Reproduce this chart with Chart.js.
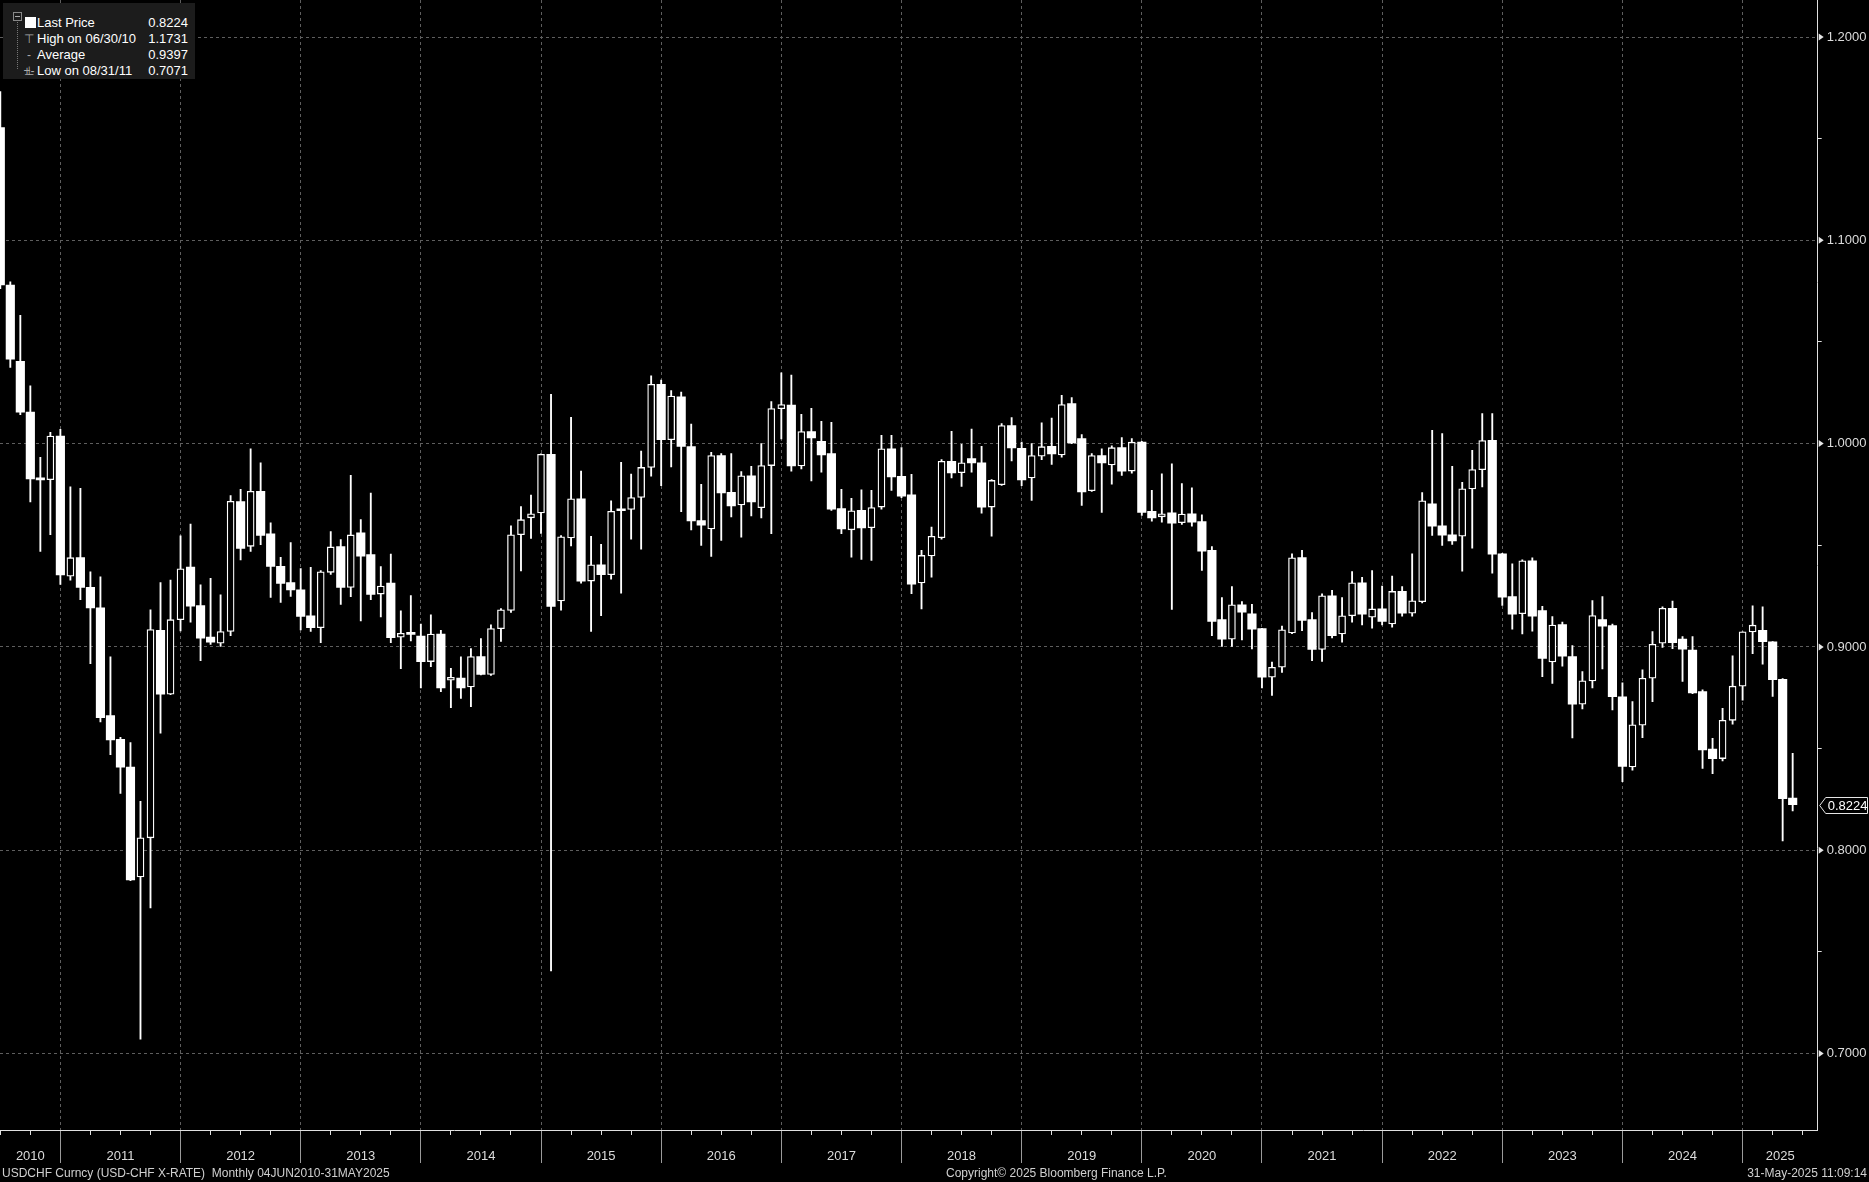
<!DOCTYPE html>
<html>
<head>
<meta charset="utf-8">
<script src="https://cdn.jsdelivr.net/npm/chart.js@4.4.1/dist/chart.umd.min.js"></script>
<style>
  html, body { margin: 0; padding: 0; background: #000; }
  #wrap { position: relative; width: 1869px; height: 1182px; overflow: hidden; }
  #grafico { position: absolute; left: 0; top: 0; }
  #legend { position: absolute; left: 3px; top: 3px; width: 192px; height: 76px; background: #1c1c1c;
            font: 13px "Liberation Sans", Arial, sans-serif; color: #fff; }
  #legend .row { position: absolute; left: 0; width: 100%; height: 16px; line-height: 16px; }
  #legend .nm { position: absolute; left: 34px; }
  #legend .val { position: absolute; right: 7px; }
  #legend .tree { position: absolute; left: 14px; top: 14px; height: 52px; border-left: 1px dotted #777; }
  #legend .box { position: absolute; left: 10px; top: 9px; width: 7px; height: 7px; border: 1px solid #888; background: #1c1c1c; }
  #legend .box:after { content: ''; position: absolute; left: 1px; top: 3px; width: 5px; height: 1px; background: #aaa; }
  #legend .sq { position: absolute; left: 22px; top: 2px; width: 11px; height: 11px; background: #fff; }
  #legend .ic { position: absolute; left: 20px; top: 0; width: 12px; color: #aaa; font-size: 12px; text-align: center; }
  .foot { position: absolute; top: 1166px; font: 12px "Liberation Sans", Arial, sans-serif; color: #d0d0d0; white-space: pre; }
</style>
</head>
<body>
<div id="wrap">
  <canvas id="grafico" width="1869" height="1182"></canvas>
  <div id="legend">
    <div class="tree"></div>
    <div class="box"></div>
    <div class="row" style="top:12px"><span class="sq"></span><span class="nm">Last Price</span><span class="val">0.8224</span></div>
    <div class="row" style="top:28px"><span class="ic">&#x22A4;</span><span class="nm">High on 06/30/10</span><span class="val">1.1731</span></div>
    <div class="row" style="top:44px"><span class="ic">-+-</span><span class="nm">Average</span><span class="val">0.9397</span></div>
    <div class="row" style="top:60px"><span class="ic">&#x22A5;</span><span class="nm">Low on 08/31/11</span><span class="val">0.7071</span></div>
  </div>
  <div class="foot" style="left:2px">USDCHF Curncy (USD-CHF X-RATE)  Monthly 04JUN2010-31MAY2025</div>
  <div class="foot" style="left:946px">Copyright© 2025 Bloomberg Finance L.P.</div>
  <div class="foot" style="right:2px">31-May-2025 11:09:14</div>
</div>
<script>
// USD-CHF monthly candles, Jun 2010 -> May 2025 (one row per year)
const open = [
  1.1555, 1.0780, 1.0405, 1.0155, 0.9826, 0.9823, 1.0037,
  0.9348, 0.9439, 0.9293, 0.9192, 0.8662, 0.8546, 0.8409, 0.7869, 0.8061, 0.9082, 0.8768, 0.9134,
  0.9393, 0.9204, 0.9049, 0.9018, 0.9076, 0.9715, 0.9495, 0.9765, 0.9556, 0.9396, 0.9316, 0.9281,
  0.9153, 0.9095, 0.9367, 0.9493, 0.9293, 0.9561, 0.9454, 0.9260, 0.9314, 0.9048, 0.9067, 0.9053,
  0.8928, 0.9063, 0.8836, 0.8847, 0.8803, 0.8953, 0.8865, 0.9090, 0.9179, 0.9552, 0.9635, 0.9659,
  0.9947, 0.9226, 0.9536, 0.9729, 0.9324, 0.9404, 0.9355, 0.9674, 0.9676, 0.9735, 0.9883, 1.0292,
  1.0019, 1.0230, 0.9986, 0.9622, 0.9580, 0.9941, 0.9760, 0.9698, 0.9842, 0.9685, 0.9892, 1.0172,
  1.0189, 0.9890, 1.0059, 1.0011, 0.9951, 0.9681, 0.9576, 0.9672, 0.9586, 0.9688, 0.9975, 0.9839,
  0.9748, 0.9315, 0.9448, 0.9537, 0.9913, 0.9857, 0.9926, 0.9906, 0.9688, 0.9798, 1.0089, 0.9977,
  0.9831, 0.9938, 0.9987, 0.9944, 1.0197, 1.0025, 0.9768, 0.9941, 0.9895, 0.9980, 0.9865, 1.0007,
  0.9667, 0.9640, 0.9660, 0.9611, 0.9655, 0.9616, 0.9475, 0.9135, 0.9038, 0.9207, 0.9163, 0.9090,
  0.8851, 0.8900, 0.9069, 0.9440, 0.9135, 0.8988, 0.9251, 0.9064, 0.9153, 0.9315, 0.9146, 0.9187,
  0.9113, 0.9273, 0.9166, 0.9223, 0.9704, 0.9596, 0.9552, 0.9545, 0.9777, 0.9872, 1.0016, 0.9458,
  0.9248, 0.9163, 0.9424, 0.9179, 0.8926, 0.9110, 0.8952, 0.8718, 0.8833, 0.9135, 0.9105, 0.8755,
  0.8410, 0.8615, 0.8846, 0.9018, 0.9190, 0.9039, 0.8985, 0.8780, 0.8497, 0.8451, 0.8639, 0.8807,
  0.9074, 0.9082, 0.9025, 0.8841, 0.8256
]
const high = [
  1.1731, 1.0796, 1.0631, 1.0284, 0.9933, 1.0055, 1.0070,
  0.9787, 0.9780, 0.9369, 0.9345, 0.8951, 0.8555, 0.8530, 0.8241, 0.9183, 0.9317, 0.9329, 0.9546,
  0.9604, 0.9305, 0.9338, 0.9256, 0.9744, 0.9775, 0.9975, 0.9905, 0.9610, 0.9441, 0.9513, 0.9385,
  0.9391, 0.9375, 0.9567, 0.9528, 0.9844, 0.9627, 0.9757, 0.9395, 0.9457, 0.9178, 0.9252, 0.9112,
  0.9158, 0.9082, 0.8895, 0.8951, 0.8992, 0.9041, 0.9109, 0.9189, 0.9596, 0.9690, 0.9747, 0.9950,
  1.0242, 0.9548, 1.0129, 0.9865, 0.9544, 0.9505, 0.9719, 0.9908, 0.9850, 0.9963, 1.0333, 1.0312,
  1.0261, 1.0253, 1.0096, 0.9800, 0.9957, 0.9951, 0.9951, 0.9862, 0.9888, 1.0000, 1.0207, 1.0348,
  1.0337, 1.0144, 1.0174, 1.0110, 1.0105, 0.9775, 0.9731, 0.9773, 0.9770, 1.0041, 1.0041, 0.9980,
  0.9849, 0.9475, 0.9589, 0.9921, 1.0061, 0.9997, 1.0071, 0.9987, 0.9823, 1.0099, 1.0128, 1.0008,
  1.0000, 1.0102, 1.0126, 1.0238, 1.0227, 1.0044, 0.9951, 0.9975, 0.9989, 1.0030, 1.0025, 1.0011,
  0.9770, 0.9852, 0.9901, 0.9803, 0.9783, 0.9650, 0.9494, 0.9243, 0.9297, 0.9223, 0.9209, 0.9092,
  0.8926, 0.9103, 0.9458, 0.9475, 0.9169, 0.9261, 0.9278, 0.9243, 0.9371, 0.9342, 0.9376, 0.9299,
  0.9348, 0.9297, 0.9458, 0.9759, 1.0066, 1.0049, 0.9888, 0.9810, 0.9967, 1.0148, 1.0148, 0.9461,
  0.9409, 0.9429, 0.9438, 0.9200, 0.9149, 0.9122, 0.9007, 0.8879, 0.9228, 0.9248, 0.9113, 0.8823,
  0.8731, 0.8887, 0.9075, 0.9197, 0.9226, 0.9051, 0.9051, 0.8789, 0.8551, 0.8698, 0.8956, 0.9074,
  0.9202, 0.9197, 0.9026, 0.8844, 0.8477
]
const low = [
  1.0762, 1.0375, 1.0143, 0.9713, 0.9470, 0.9552, 0.9308,
  0.9329, 0.9232, 0.8918, 0.8631, 0.8470, 0.8280, 0.7850, 0.7071, 0.7716, 0.8576, 0.8765, 0.9079,
  0.9122, 0.8933, 0.9012, 0.9003, 0.9055, 0.9428, 0.9470, 0.9503, 0.9243, 0.9219, 0.9248, 0.9084,
  0.9076, 0.9021, 0.9357, 0.9209, 0.9247, 0.9128, 0.9232, 0.9148, 0.9021, 0.8893, 0.9030, 0.8799,
  0.8903, 0.8780, 0.8701, 0.8747, 0.8706, 0.8862, 0.8860, 0.9027, 0.9170, 0.9374, 0.9534, 0.9558,
  0.7407, 0.9181, 0.9497, 0.9314, 0.9076, 0.9154, 0.9333, 0.9265, 0.9530, 0.9481, 0.9840, 0.9793,
  0.9885, 0.9665, 0.9575, 0.9499, 0.9445, 0.9524, 0.9639, 0.9540, 0.9644, 0.9635, 0.9557, 1.0023,
  0.9865, 0.9875, 0.9816, 0.9860, 0.9672, 0.9557, 0.9442, 0.9430, 0.9425, 0.9678, 0.9770, 0.9734,
  0.9262, 0.9187, 0.9343, 0.9530, 0.9831, 0.9790, 0.9860, 0.9658, 0.9545, 0.9795, 0.9915, 0.9793,
  0.9721, 0.9921, 0.9898, 0.9933, 1.0000, 0.9696, 0.9765, 0.9662, 0.9800, 0.9844, 0.9855, 0.9647,
  0.9619, 0.9614, 0.9184, 0.9603, 0.9594, 0.9376, 0.9056, 0.9003, 0.9003, 0.9034, 0.8990, 0.8798,
  0.8762, 0.8875, 0.9065, 0.9080, 0.8933, 0.8929, 0.9044, 0.9023, 0.9122, 0.9108, 0.9092, 0.9108,
  0.9097, 0.9151, 0.9151, 0.9217, 0.9548, 0.9499, 0.9504, 0.9373, 0.9486, 0.9787, 0.9363, 0.9204,
  0.9087, 0.9064, 0.9077, 0.8854, 0.8821, 0.8905, 0.8553, 0.8695, 0.8798, 0.8892, 0.8690, 0.8337,
  0.8394, 0.8554, 0.8731, 0.8997, 0.8992, 0.8830, 0.8770, 0.8402, 0.8377, 0.8439, 0.8620, 0.8738,
  0.8967, 0.8915, 0.8756, 0.8046, 0.8193
]
const close = [
  1.0780, 1.0415, 1.0155, 0.9826, 0.9822, 1.0037, 0.9354,
  0.9439, 0.9293, 0.9192, 0.8652, 0.8543, 0.8409, 0.7854, 0.8061, 0.9085, 0.8768, 0.9134, 0.9384,
  0.9201, 0.9043, 0.9024, 0.9076, 0.9716, 0.9485, 0.9765, 0.9549, 0.9396, 0.9313, 0.9280, 0.9150,
  0.9095, 0.9370, 0.9492, 0.9293, 0.9551, 0.9446, 0.9258, 0.9299, 0.9046, 0.9067, 0.9062, 0.8928,
  0.9063, 0.8799, 0.8845, 0.8799, 0.8953, 0.8865, 0.9090, 0.9183, 0.9552, 0.9626, 0.9655, 0.9947,
  0.9199, 0.9542, 0.9729, 0.9324, 0.9404, 0.9355, 0.9667, 0.9670, 0.9735, 0.9883, 1.0292, 1.0019,
  1.0234, 0.9986, 0.9620, 0.9599, 0.9941, 0.9757, 0.9693, 0.9842, 0.9713, 0.9892, 1.0172, 1.0192,
  0.9890, 1.0059, 1.0028, 0.9944, 0.9678, 0.9580, 0.9670, 0.9585, 0.9686, 0.9975, 0.9836, 0.9741,
  0.9309, 0.9450, 0.9544, 0.9913, 0.9856, 0.9906, 0.9905, 0.9688, 0.9819, 1.0089, 0.9979, 0.9821,
  0.9941, 0.9985, 0.9949, 1.0192, 1.0003, 0.9762, 0.9941, 0.9905, 0.9980, 0.9865, 1.0007, 0.9662,
  0.9634, 0.9650, 0.9609, 0.9654, 0.9614, 0.9471, 0.9126, 0.9038, 0.9207, 0.9171, 0.9087, 0.8851,
  0.8900, 0.9084, 0.9438, 0.9131, 0.8988, 0.9251, 0.9056, 0.9153, 0.9315, 0.9161, 0.9187, 0.9126,
  0.9273, 0.9166, 0.9227, 0.9719, 0.9594, 0.9550, 0.9521, 0.9778, 0.9872, 1.0015, 0.9456, 0.9245,
  0.9161, 0.9424, 0.9151, 0.8944, 0.9108, 0.8954, 0.8718, 0.8833, 0.9154, 0.9102, 0.8755, 0.8412,
  0.8617, 0.8846, 0.9013, 0.9190, 0.9021, 0.8989, 0.8774, 0.8493, 0.8451, 0.8639, 0.8807, 0.9074,
  0.9107, 0.9026, 0.8839, 0.8254, 0.8224
]

const years = ['2010','2011','2012','2013','2014','2015','2016','2017','2018','2019','2020','2021','2022','2023','2024','2025']
const yTicks = [0.70, 0.75, 0.80, 0.85, 0.90, 0.95, 1.00, 1.05, 1.10, 1.15, 1.20]
const lastPrice = 0.8224

// x = month index (0 = Jun 2010); December bars sit on the year boundary
const xMin = -0.03, xMax = 181.5
const isBoundary = v => v >= 6 && Math.abs((v - 6) % 12) < 1e-6
const yearPos = years.map((y, i) => i === 0 ? 3 : (i === years.length - 1 ? (174 + xMax) / 2 : 12 * i))
const xTicks = []
for (let k = 0; k <= 180; k += 3) xTicks.push(k)
xTicks.push(yearPos[yearPos.length - 1])
const yearAt = v => { const i = yearPos.findIndex(p => Math.abs(p - v) < 1e-6); return i < 0 ? '' : years[i] }
const isMajorY = v => Math.abs(Math.round(v * 10) - v * 10) < 1e-6

const wicks = open.map((o, i) => ({ x: i, y: [low[i], high[i]] }))
const downs = [], ups = []
open.forEach((o, i) => {
    if (close[i] < open[i]) downs.push({ x: i, y: [o, close[i]] })
    else ups.push({ x: i, y: [o, close[i]] })
})

const font = { family: '"Liberation Sans", Arial, sans-serif', size: 13 }

const noPad = s => { s.paddingTop = 0; s.paddingBottom = 0; s.paddingLeft = 0; s.paddingRight = 0 }

const extras = {
    id: 'extras',
    afterDraw(chart) {
        const { ctx, chartArea, scales: { y } } = chart
        const r = chartArea.right
        ctx.save()
        ctx.fillStyle = '#e6e6e6'
        yTicks.filter(isMajorY).forEach(v => {
            const py = y.getPixelForValue(v)
            ctx.beginPath()
            ctx.moveTo(r + 1, py - 3.5)
            ctx.lineTo(r + 6, py)
            ctx.lineTo(r + 1, py + 3.5)
            ctx.closePath()
            ctx.fill()
        })
        // last price marker
        const py = Math.round(y.getPixelForValue(lastPrice)) + 0.5
        ctx.beginPath()
        ctx.moveTo(r + 2, py)
        ctx.lineTo(r + 8, py - 8)
        ctx.lineTo(chart.width - 1.5, py - 8)
        ctx.lineTo(chart.width - 1.5, py + 8)
        ctx.lineTo(r + 8, py + 8)
        ctx.closePath()
        ctx.fillStyle = '#000'
        ctx.fill()
        ctx.strokeStyle = '#e6e6e6'
        ctx.lineWidth = 1
        ctx.stroke()
        ctx.fillStyle = '#fff'
        ctx.font = '13px "Liberation Sans", Arial, sans-serif'
        ctx.textBaseline = 'middle'
        ctx.fillText(lastPrice.toFixed(4), r + 10, py + 0.5)
        ctx.restore()
    }
}

const config = {
    type: 'bar',
    data: {
        datasets: [
            { label: 'down', data: downs, backgroundColor: '#fff', barThickness: 8.5, minBarLength: 2, grouped: false, order: 1 },
            { label: 'up', data: ups, backgroundColor: '#000', borderColor: '#fff', borderWidth: 1.3, borderSkipped: false,
              barThickness: 7, minBarLength: 3, grouped: false, order: 1 },
            { label: 'range', data: wicks, backgroundColor: '#fff', barThickness: 1.2, grouped: false, order: 3 }
        ]
    },
    options: {
        responsive: false,
        animation: false,
        events: [],
        layout: { padding: 0 },
        plugins: { legend: { display: false }, tooltip: { enabled: false } },
        scales: {
            x: {
                type: 'linear', min: xMin, max: xMax, offset: false,
                afterBuildTicks: s => { s.ticks = xTicks.map(v => ({ value: v })) },
                afterFit: s => { s.height = 52; noPad(s) },
                ticks: { autoSkip: false, maxRotation: 0, minRotation: 0, padding: -14, color: '#dcdcdc', font,
                         callback: v => yearAt(v) },
                grid: {
                    offset: false,
                    color: c => isBoundary(c.tick.value) ? '#5e5e5e' : 'transparent',
                    tickLength: 33,
                    tickColor: c => isBoundary(c.tick.value) ? '#9a9a9a' : (Number.isInteger(c.tick.value) ? '#e0e0e0' : 'transparent'),
                    tickBorderDash: c => isBoundary(c.tick.value) ? [] : [4, 100]
                },
                border: { color: '#e0e0e0', width: 1, dash: [3, 3] }
            },
            y: {
                position: 'right', min: 0.6624, max: 1.2182,
                afterBuildTicks: s => { s.ticks = yTicks.map(v => ({ value: v })) },
                afterFit: s => { s.width = 51.3; noPad(s) },
                ticks: { padding: 5, color: '#dcdcdc', font, callback: v => isMajorY(v) ? v.toFixed(4) : '' },
                grid: {
                    color: c => isMajorY(c.tick.value) ? '#5e5e5e' : 'transparent',
                    tickLength: 4,
                    tickColor: c => isMajorY(c.tick.value) ? 'transparent' : '#e0e0e0'
                },
                border: { color: '#e0e0e0', width: 1, dash: [3, 3] }
            }
        }
    },
    plugins: [extras]
}

const graph = new Chart(document.getElementById('grafico'), config)
</script>
</body>
</html>
